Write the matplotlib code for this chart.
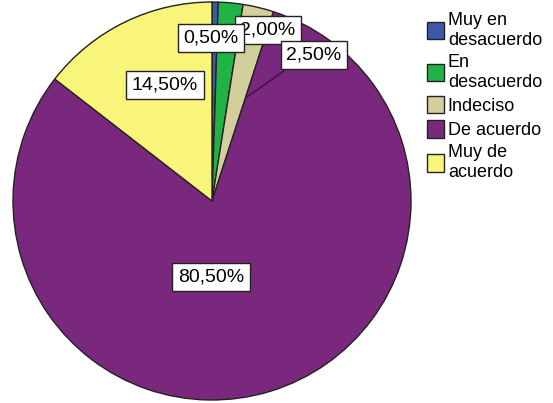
import matplotlib.pyplot as plt
from matplotlib.patches import Patch

categories = ['Muy en\ndesacuerdo', 'En\ndesacuerdo', 'Indeciso', 'De acuerdo', 'Muy de\nacuerdo']
values = [0.5, 2.0, 2.5, 80.5, 14.5]
labels = ['0,50%', '2,00%', '2,50%', '80,50%', '14,50%']
colors = ['#3e58ac', '#1fb445', '#d3cf9c', '#7a287e', '#f8f57a']

plt.rcParams['font.family'] = ['Liberation Sans', 'DejaVu Sans']

W, H = 553, 403
cx, cy, r = 212, 201, 199


def to_data(px, py):
    return (px - cx) / r, (cy - py) / r


fig = plt.figure(figsize=(W / 100, H / 100), dpi=100)
ax = fig.add_axes([0, 0, 1, 1])
wedges, _ = ax.pie(values, colors=colors, startangle=90, counterclock=False,
                   wedgeprops=dict(edgecolor='#222222', linewidth=1.0))
ax.set_xlim(-cx / r, (W - cx) / r)
ax.set_ylim((cy - H) / r, cy / r)
ax.set_aspect('auto')
ax.axis('off')

# leader line for the small slice label
x0, y0 = to_data(247, 97)
x1, y1 = to_data(284, 71)
ax.plot([x0, x1], [y0, y1], color='#3a1040', lw=1)

# label positions (pixels), drawn so that 0,50% sits on top of 2,00%
label_pos = {'2,00%': (268, 30), '2,50%': (314, 55), '0,50%': (211, 38),
             '14,50%': (165, 85), '80,50%': (211, 277)}
box = dict(boxstyle='square,pad=0.3', facecolor='white', edgecolor='#222222', lw=1)
for lab in ['2,00%', '2,50%', '0,50%', '14,50%', '80,50%']:
    x, y = to_data(*label_pos[lab])
    ax.text(x, y, lab, ha='center', va='center', fontsize=14, bbox=box)

handles = [Patch(facecolor=c, edgecolor='#222222', lw=1) for c in colors]
leg = fig.legend(handles, categories, loc='upper left', bbox_to_anchor=(427 / W, 1 - 12 / H),
                 frameon=False, fontsize=13, handlelength=0.95, handleheight=1.1,
                 handletextpad=0.2, labelspacing=0.3, borderaxespad=0, borderpad=0)
for t in leg.get_texts():
    t.set_linespacing(1.2)

fig.savefig('out.png', dpi=100)
